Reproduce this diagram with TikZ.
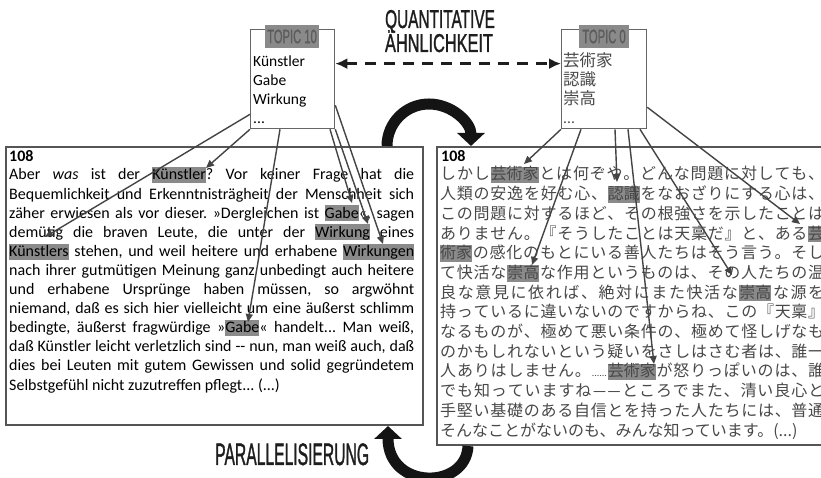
\documentclass[tikz,border=0pt]{standalone}
\usepackage{fontspec}
\usepackage{graphicx}
\setmainfont{Carlito}
\newfontfamily\jp{Noto Sans CJK JP}
\newfontface\heads[FakeBold=1.6]{Liberation Sans}
\usetikzlibrary{arrows.meta}
\definecolor{hlgray}{RGB}{138,138,138}
\definecolor{boxgray}{RGB}{85,85,85}
\definecolor{linegray}{RGB}{68,68,68}
\definecolor{jpgray}{RGB}{72,72,72}
\definecolor{topictext}{RGB}{92,92,92}
\definecolor{headblack}{RGB}{30,30,30}
\newcommand\hl[1]{{\setlength{\fboxsep}{0pt}\colorbox{hlgray}{\rule[-0.2em]{0pt}{1em}#1}}}
\makeatletter
\newcommand\jline[1]{\hbox to 384pt{\@tfor\jtok:=#1\do{\jtok\hfil}\unskip}}
\makeatother
\newcommand\gline[1]{\hbox to 405pt{#1}}
\frenchspacing
\begin{document}
\begin{tikzpicture}[x=1pt,y=1pt,
  textbox/.style={draw=boxgray, line width=2pt, inner sep=0pt, anchor=north west},
  topicbox/.style={draw=boxgray!90, line width=1.3pt, fill=white, inner sep=0pt, anchor=north west},
  topiclabel/.style={fill=hlgray, inner sep=0pt, minimum width=54pt, minimum height=23pt, text=topictext},
  link/.style={draw=linegray, line width=1.4pt, -{Triangle[length=8pt,width=7pt]}},
  bigarrow/.style={draw=black!92, line width=11pt, -{Triangle[length=13pt,width=27pt]}},
  dasharrow/.style={draw=headblack, line width=2.8pt, dash pattern=on 11pt off 8pt, {Latex[length=12pt,width=11pt]}-{Latex[length=12pt,width=11pt]}},
  plain/.style={inner sep=0pt, anchor=base west},
]
\useasboundingbox (0,0) rectangle (821,478);
\fill[white] (0,0) rectangle (821,478);

% text boxes
\node[textbox, minimum width=417pt, minimum height=278pt] (lbox) at (5,332) {};
\node[textbox, minimum width=400pt, minimum height=298pt] (rbox) at (436,332) {};

\node[plain, font=\bfseries\fontsize{16}{19}\selectfont] (lnum) at (9,316) {108};
\node[plain, font=\fontsize{16}{19.2}\selectfont] (ltext) at (9,298) {\vtop{\baselineskip=19.1pt
\gline{Aber \textit{was} ist der \hl{Künstler}? Vor keiner Frage hat die}
\gline{Bequemlichkeit und Erkenntnisträgheit der Menschheit sich}
\gline{zäher erwiesen als vor dieser. »Dergleichen ist \hl{Gabe}«, sagen}
\gline{demütig die braven Leute, die unter der \hl{Wirkung} eines}
\gline{\hl{Künstlers} stehen, und weil heitere und erhabene \hl{Wirkungen}}
\gline{nach ihrer gutmütigen Meinung ganz unbedingt auch heitere}
\gline{und erhabene Ursprünge haben müssen, so argwöhnt}
\gline{niemand, daß es sich hier vielleicht um eine äußerst schlimm}
\gline{bedingte, äußerst fragwürdige »\hl{Gabe}« handelt... Man weiß,}
\gline{daß Künstler leicht verletzlich sind -{}- nun, man weiß auch, daß}
\gline{dies bei Leuten mit gutem Gewissen und solid gegründetem}
\hbox{Selbstgefühl nicht zuzutreffen pflegt... (...)}}};

\node[plain, font=\bfseries\fontsize{16}{19}\selectfont] (rnum) at (441,316) {108};
\node[plain, font=\jp\fontsize{16}{19.7}\selectfont, text=jpgray] (rtext) at (440,298) {\vtop{\baselineskip=19.7pt
\jline{しかし{\hl{芸術家}}とは何ぞや。どんな問題に対しても、}
\jline{人類の安逸を好む心、{\hl{認識}}をなおざりにする心は、}
\jline{この問題に対するほど、その根強さを示したことは}
\jline{ありません。『そうしたことは天稟だ』と、ある{\hl{芸}}}
\jline{{\hl{術家}}の感化のもとにいる善人たちはそう言う。そし}
\jline{て快活な{\hl{崇高}}な作用というものは、その人たちの温}
\jline{良な意見に依れば、絶対にまた快活な{\hl{崇高}}な源を}
\jline{持っているに違いないのですからね、この『天稟』}
\jline{なるものが、極めて悪い条件の、極めて怪しげなも}
\jline{のかもしれないという疑いをさしはさむ者は、誰一}
\jline{人ありはしません。{{\rmfamily\fontsize{10}{10}\selectfont ......}}{\hl{芸術家}}が怒りっぽいのは、誰}
\jline{でも知っていますね{{\rmfamily ——}}ところでまた、清い良心と}
\jline{手堅い基礎のある自信とを持った人たちには、普通}
\hbox{そんなことがないのも、みんな知っています。(...)}}};

% topic boxes
\node[topicbox, minimum width=84pt, minimum height=99pt] (t10) at (250,449) {};
\node[topicbox, minimum width=85pt, minimum height=99pt] (t0) at (561,449) {};
\node[topiclabel] (l10) at (292,441.5) {\scalebox{1.12}[1.95]{\heads\fontsize{10}{10}\selectfont TOPIC 10}};
\node[topiclabel, minimum width=50pt] (l0) at (604,441.5) {\scalebox{1.12}[1.95]{\heads\fontsize{10}{10}\selectfont TOPIC 0}};
\node[plain, font=\fontsize{15.5}{19}\selectfont] (w10) at (253,411) {\vtop{\baselineskip=19pt \hbox{Künstler}\hbox{Gabe}\hbox{Wirkung}\hbox{...}}};
\node[plain, font=\jp\fontsize{16.5}{19}\selectfont, text=jpgray] (w0) at (563,411) {\vtop{\baselineskip=19pt \hbox{芸術家}\hbox{認識}\hbox{崇高}\hbox{\rmfamily\fontsize{15.5}{19}\selectfont ...}}};

% headings
\node[inner sep=0pt, anchor=base, text=headblack] (q1) at (440,450) {\scalebox{1.539}[2.58]{\heads\fontsize{10}{10}\selectfont QUANTITATIVE}};
\node[inner sep=0pt, anchor=base, text=headblack] (q2) at (439,426) {\scalebox{1.633}[2.58]{\heads\fontsize{10}{10}\selectfont ÄHNLICHKEIT}};
\node[inner sep=0pt, anchor=base west, text=headblack] (par) at (215,13) {\scalebox{1.567}[3.1]{\heads\fontsize{10}{10}\selectfont PARALLELISIERUNG}};

% targets
\coordinate (eK1) at (45,241);
\coordinate (eK2) at (206,310);
\coordinate (eG2) at (248,156);
\coordinate (eG1) at (352,275);
\coordinate (eW1) at (368,254);
\coordinate (eW2) at (383,234);
\coordinate (jA1) at (524,314);
\coordinate (jS1) at (532,213);
\coordinate (jN1) at (617,296);
\coordinate (jA3) at (654,114);
\coordinate (jS2) at (732,203);
\coordinate (jA2) at (800,254);

% links
\draw[link] ([yshift=15pt]t10.south west) -- (eK1);
\draw[link] (t10.south west) -- (eK2);
\draw[link] ([xshift=30pt]t10.south west) -- (eG2);
\draw[link] ([xshift=80pt]t10.south west) -- (eG1);
\draw[link] (t10.south east) -- (eW1);
\draw[link] ([yshift=24pt]t10.south east) -- (eW2);
\draw[link] (t0.south west) -- (jA1);
\draw[link] ([xshift=20pt]t0.south west) -- (jS1);
\draw[link] ([xshift=54pt]t0.south west) -- (jN1);
\draw[link] ([xshift=67pt]t0.south west) -- (jA3);
\draw[link] ([xshift=79pt]t0.south west) -- (jS2);
\draw[link] ([yshift=22pt]t0.south east) -- (jA2);

% similarity arrow
\draw[dasharrow] ([yshift=15.5pt]t10.east) -- ([yshift=15.5pt]t0.west);

% parallelisation arrows
\draw[bigarrow] ([xshift=382pt]lbox.north west) arc[start angle=180, end angle=0, radius=42];
\draw[bigarrow] ([xshift=32pt]rbox.south west) .. controls (466,-12) and (388,-12) .. ([xshift=383pt]lbox.south west);
\end{tikzpicture}
\end{document}
